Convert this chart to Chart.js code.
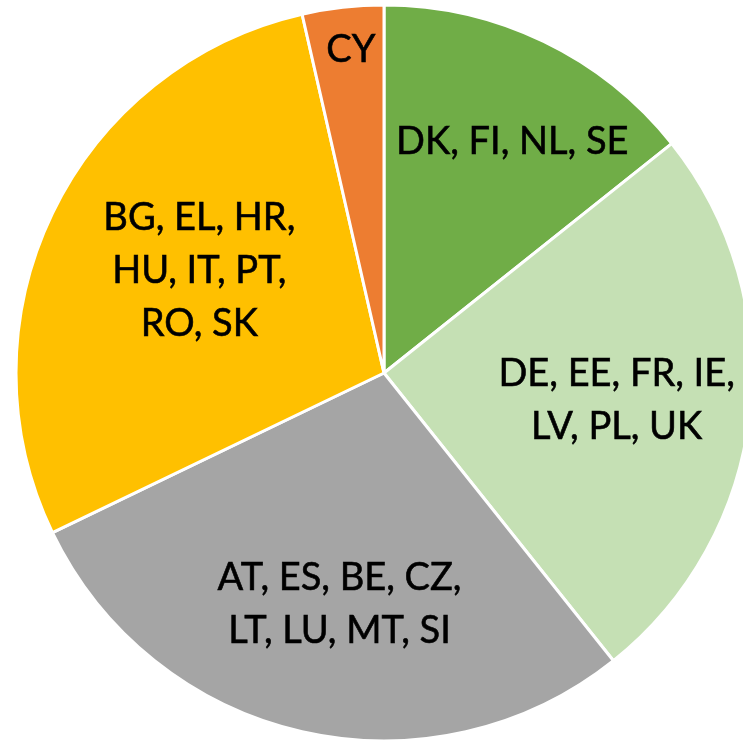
<!DOCTYPE html>
<html>
<head>
<meta charset="utf-8">
<script src="https://cdn.jsdelivr.net/npm/chart.js@4/dist/chart.umd.min.js"></script>
<style>
    html, body { margin: 0; padding: 0; background: #fff; overflow: hidden; }
    #wrap { position: absolute; left: 0; top: 0; width: 780px; height: 745px; }
</style>
</head>
<body>
<div id="wrap"><canvas id="pieChart" width="780" height="745"></canvas></div>
<script>
// Country groups (one slice each), clockwise from 12 o'clock
const groupLabels = [
    ['DK, FI, NL, SE'],
    ['DE, EE, FR, IE,', 'LV, PL, UK'],
    ['AT, ES, BE, CZ,', 'LT, LU, MT, SI'],
    ['BG, EL, HR,', 'HU, IT, PT,', 'RO, SK'],
    ['CY']
];
// Number of countries in each group
const countryCounts = [4, 7, 8, 8, 1];

const sliceColors = ['#70AD47', '#C5E0B4', '#A5A5A5', '#FFC000', '#ED7D31'];

// label placement: fraction of radius and angle nudge (degrees) per slice
const labelRadius = [0.721, 0.636, 0.636, 0.575, 0.887];
const labelNudge = [3.2, -0.1, -1.9, 3.5, 0.6];

// Simple inline data label plugin
const sliceLabels = {
    id: 'sliceLabels',
    afterDatasetsDraw(chart) {
        const ctx = chart.ctx;
        const meta = chart.getDatasetMeta(0);
        ctx.save();
        ctx.fillStyle = '#000';
        ctx.strokeStyle = '#000';
        ctx.lineWidth = 0.6;
        ctx.font = '38px Lato';
        ctx.textAlign = 'center';
        ctx.textBaseline = 'alphabetic';
        const lineHeight = 53;
        const capHalf = 13.5;
        meta.data.forEach((arc, i) => {
            const p = arc.getProps(['x', 'y', 'startAngle', 'endAngle', 'outerRadius'], true);
            const mid = (p.startAngle + p.endAngle) / 2 + labelNudge[i] * Math.PI / 180;
            const r = p.outerRadius * labelRadius[i];
            const cx = p.x + Math.cos(mid) * r;
            const cy = p.y + Math.sin(mid) * r;
            const lines = chart.data.labels[i];
            lines.forEach((line, j) => {
                const y = cy + (j - (lines.length - 1) / 2) * lineHeight + capHalf;
                ctx.fillText(line, cx, y);
                // slightly heavier strokes, like the original
                ctx.strokeText(line, cx, y);
            });
        });
        ctx.restore();
    }
};

const ctx = document.getElementById('pieChart').getContext('2d');
window.pieChart = new Chart(ctx, {
    type: 'pie',
    data: {
        labels: groupLabels,
        datasets: [{
            data: countryCounts,
            backgroundColor: sliceColors,
            borderColor: '#ffffff',
            borderWidth: 3
        }]
    },
    options: {
        responsive: false,
        animation: false,
        radius: 368,
        layout: {
            padding: { left: 0, right: 12, top: 1, bottom: 0 }
        },
        plugins: {
            legend: { display: false },
            tooltip: { enabled: false }
        }
    },
    plugins: [sliceLabels]
});
</script>
</body>
</html>
